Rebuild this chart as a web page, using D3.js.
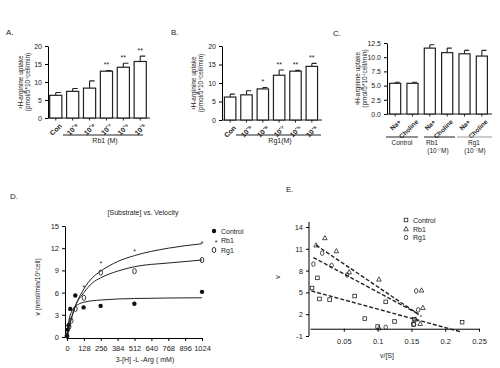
<!DOCTYPE html>
<html>
<head>
<script src="https://cdn.jsdelivr.net/npm/d3@7"></script>
<style>
  body{ margin:0; background:#fff; font-family:"Liberation Sans",Arial,sans-serif; }
  svg text{ fill:#222; }
</style>
</head>
<body>
<div id="chart"></div>
<script>
// ---- panel A / B / C bar data ----
var catsAB = ["Con","10\u207B\u2079","10\u207B\u2078","10\u207B\u2077","10\u207B\u2076","10\u207B\u2075"]
var valsA = [6.3,7.4,8.3,13.0,14.1,15.7]
var errA  = [7.1,8.2,10.3,13.2,15.2,17.2]
var starsA = ["","","","**","**","**"]
var valsB = [6.2,6.8,8.4,12.1,13.2,14.5]
var errB  = [7.0,7.9,8.8,13.5,13.4,15.3]
var starsB = ["","","*","**","**","**"]
var catsC = ["Na+","Choline","Na+","Choline","Na+","Choline"]
var valsC = [5.4,5.4,11.6,10.8,10.6,10.2]
var errC  = [5.6,5.6,12.2,11.6,11.2,11.2]
var ticksAB = [0,5,10,15,20]
var ticksC = [0,2.5,5,7.5,10,12.5]

// ---- panel D: substrate vs velocity ----
var dX = [0,128,256,384,512,640,768,896,1024]
var dY = [0,3,6,9,12,15]
var ctrlD = [[0,0.1],[6,1.0],[12,1.6],[25,3.8],[63,5.6],[126,4.0],[255,4.2],[511,4.5],[1024,6.1]]
var rb1D  = [[0,0.5],[16,1.6],[32,2.6],[128,6.9],[256,10.1],[512,11.8],[1024,12.8]]
var rg1D  = [[0,0.2],[16,1.4],[32,2.2],[64,3.8],[128,5.3],[256,8.7],[512,8.9],[1024,10.4]]
var ctrlFit = [[0,0],[8,1.5],[16,2.4],[32,3.3],[64,4.1],[128,4.7],[256,5.0],[512,5.2],[1024,5.3]]
var rb1Fit  = [[0,0],[16,1.3],[32,2.4],[64,4.2],[128,6.5],[192,8.0],[256,8.9],[384,10.2],[512,11.0],[768,12.0],[1024,12.6]]
var rg1Fit  = [[0,0],[16,1.4],[32,2.5],[64,4.2],[128,6.0],[192,7.3],[256,8.0],[384,8.9],[512,9.5],[768,10.0],[1024,10.4]]

// ---- panel E: Eadie-Hofstee ----
var eX = [0.05,0.1,0.15,0.2,0.25]
var eY = [-1,2,5,8,11,14]
var ctrlE = [[0.003,5.6],[0.011,7.0],[0.014,4.1],[0.029,4.0],[0.066,4.5],[0.081,1.4],[0.1,0.3],[0.112,3.7],[0.125,1.0],[0.154,1.3],[0.153,0.6],[0.225,0.9]]
var rb1E  = [[0.009,11.5],[0.022,12.5],[0.039,10.7],[0.058,7.8],[0.102,6.8],[0.102,0.1],[0.156,1.3],[0.165,5.3],[0.167,2.9],[0.163,0.7]]
var rg1E  = [[0.005,8.9],[0.018,10.4],[0.032,8.7],[0.055,7.4],[0.112,0.2],[0.157,5.2],[0.16,2.6],[0.154,0.6]]
var ctrlLine = [[0.002,5.2],[0.222,-0.4]]
var rb1Line  = [[0.009,11.5],[0.165,1.7]]
var rg1Line  = [[0.005,9.8],[0.161,2.0]]

var svg = d3.select("#chart").append("svg").attr("width",500).attr("height",368)

function txt(x,y,s,size,anchor){
    return svg.append("text").attr("x",x).attr("y",y).attr("font-size",size)
        .attr("text-anchor",anchor||"start").text(s)
}
function plainFmt(d){ return String(d) }   // keeps a normal hyphen for negatives

function bars(o){
    var g = svg.append("g")
    var x = d3.scaleBand().domain(d3.range(o.vals.length)).range([o.x0,o.x1])
        .paddingInner(o.pin).paddingOuter(o.pout)
    var y = d3.scaleLinear().domain([0,o.max]).range([o.y0,o.yTop])

    g.append("g").attr("transform","translate("+o.x0+",0)")
        .call(d3.axisLeft(y).tickValues(o.ticks).tickSize(3).tickSizeOuter(0).tickFormat(o.fmt))
        .call(function(a){ a.selectAll("text").attr("font-size",7).attr("font-family","Liberation Sans") })
    g.append("line").attr("x1",o.x0).attr("x2",o.x1+2).attr("y1",o.y0).attr("y2",o.y0).attr("stroke","#222")

    g.selectAll(".xt").data(o.vals).enter().append("line")
        .attr("x1",function(d,i){return x(i)+x.bandwidth()/2}).attr("x2",function(d,i){return x(i)+x.bandwidth()/2})
        .attr("y1",o.y0).attr("y2",o.y0+2.5).attr("stroke","#222")

    // error bars
    g.selectAll(".eb").data(o.err).enter().append("path")
        .attr("d",function(d,i){
            var cx = x(i)+x.bandwidth()/2
            return "M"+cx+","+y(o.vals[i])+"V"+y(d)+"M"+cx+","+y(d)+"H"+(cx+x.bandwidth()/2-1)
        })
        .attr("stroke","#222").attr("stroke-width",1.1).attr("fill","none")
    g.selectAll(".bar").data(o.vals).enter().append("rect")
        .attr("x",function(d,i){return x(i)}).attr("width",x.bandwidth())
        .attr("y",function(d){return y(d)}).attr("height",function(d){return o.y0-y(d)})
        .attr("fill","#fff").attr("stroke","#222").attr("stroke-width",1.2)
    if(o.stars){
        g.selectAll(".st").data(o.stars).enter().append("text")
            .attr("x",function(d,i){return x(i)+x.bandwidth()/2})
            .attr("y",function(d,i){return y(o.err[i])-3})
            .attr("text-anchor","middle").attr("font-size",7).text(function(d){return d})
    }
    g.selectAll(".lab").data(o.cats).enter().append("text")
        .attr("transform",function(d,i){return "translate("+(x(i)+x.bandwidth()/2+3)+","+(o.y0+5)+") rotate(-45)"})
        .attr("text-anchor","end").attr("dy","0.7em").attr("font-size",o.labSize||7)
        .attr("font-weight","bold").text(function(d){return d})
    // y label
    var ly = (o.y0+o.yTop)/2
    g.append("text").attr("transform","translate("+o.lx+","+ly+") rotate(-90)")
        .attr("text-anchor","middle").attr("font-size",6.5).text("\u00B3H-arginine uptake")
    g.append("text").attr("transform","translate("+(o.lx+7)+","+ly+") rotate(-90)")
        .attr("text-anchor","middle").attr("font-size",6.5).text("(pmol/5*10\u2074cell/min)")
    return x
}

// panel A
txt(6,35,"A.",8)
bars({vals:valsA,err:errA,stars:starsA,cats:catsAB,x0:48,x1:148,pin:0.28,pout:0.1,
      y0:118,yTop:46,max:20,ticks:ticksAB,fmt:d3.format("d"),lx:23})
svg.append("line").attr("x1",63).attr("x2",143).attr("y1",135).attr("y2",135).attr("stroke","#222")
txt(105,143,"Rb1 (M)",7,"middle")

// panel B
txt(171,35,"B.",8)
bars({vals:valsB,err:errB,stars:starsB,cats:catsAB,x0:222,x1:320,pin:0.3,pout:0.15,
      y0:120,yTop:46,max:20,ticks:ticksAB,fmt:d3.format("d"),lx:196})
svg.append("line").attr("x1",236).attr("x2",321).attr("y1",135).attr("y2",135).attr("stroke","#222")
txt(280,143,"Rg1(M)",7,"middle")

// panel C
txt(333,36,"C.",8)
bars({vals:valsC,err:errC,cats:catsC,x0:387,x1:490,pin:0.36,pout:0.15,
      y0:114,yTop:43,max:12.5,ticks:ticksC,fmt:d3.format(".1f"),lx:360,labSize:6.5})
svg.append("line").attr("x1",386).attr("x2",418).attr("y1",137).attr("y2",137).attr("stroke","#222")
svg.append("line").attr("x1",424).attr("x2",455).attr("y1",137).attr("y2",137).attr("stroke","#222")
svg.append("line").attr("x1",457).attr("x2",492).attr("y1",137).attr("y2",137).attr("stroke","#999")
txt(402,145,"Control",6.5,"middle")
txt(432,145,"Rb1",6.5,"middle")
txt(438,153,"(10\u207B\u2077M)",6.5,"middle")
txt(474,145,"Rg1",6.5,"middle")
txt(475,153,"(10\u207B\u2077M)",6.5,"middle")

// panel D
txt(10,199,"D.",8)
var dx = d3.scaleLinear().domain([0,1024]).range([67,202])
var dy = d3.scaleLinear().domain([0,15]).range([337,226])
svg.append("g").attr("transform","translate(65,0)")
    .call(d3.axisLeft(dy).tickValues(dY).tickSize(3).tickSizeOuter(0).tickFormat(plainFmt))
    .call(function(a){ a.selectAll("text").attr("font-size",7.5).attr("font-family","Liberation Sans") })
svg.append("g").attr("transform","translate(0,338)")
    .call(d3.axisBottom(dx).tickValues(dX).tickSize(3).tickSizeOuter(0).tickFormat(plainFmt))
    .call(function(a){ a.selectAll("text").attr("font-size",7.5).attr("font-family","Liberation Sans").attr("dy","0.95em") })
var fitLine = d3.line().x(function(d){return dx(d[0])}).y(function(d){return dy(d[1])}).curve(d3.curveMonotoneX)
;[ctrlFit,rb1Fit,rg1Fit].forEach(function(f){
    svg.append("path").attr("d",fitLine(f)).attr("fill","none").attr("stroke","#222").attr("stroke-width",1)
})
svg.selectAll(".dc").data(ctrlD).enter().append("circle")
    .attr("cx",function(d){return dx(d[0])}).attr("cy",function(d){return dy(d[1])}).attr("r",2.2).attr("fill","#111")
svg.selectAll(".dr").data(rb1D).enter().append("text")
    .attr("x",function(d){return dx(d[0])}).attr("y",function(d){return dy(d[1])+4})
    .attr("text-anchor","middle").attr("font-size",7).text("*")
svg.selectAll(".dg").data(rg1D).enter().append("ellipse")
    .attr("cx",function(d){return dx(d[0])}).attr("cy",function(d){return dy(d[1])})
    .attr("rx",1.8).attr("ry",2.6).attr("fill","none").attr("stroke","#222").attr("stroke-width",0.9)
txt(143,215,"[Substrate] vs. Velocity",7,"middle")
txt(145,362,"3-[H] -L -Arg ( mM)",7,"middle")
svg.append("text").attr("transform","translate(40,287) rotate(-90)").attr("text-anchor","middle")
    .attr("font-size",6.5).text("v (nmol/min/10\u2076cell)")
svg.append("circle").attr("cx",214).attr("cy",231).attr("r",2.2).attr("fill","#111")
txt(221,234,"Control",7)
txt(216,245,"*",7,"middle")
txt(221,243,"Rb1",7)
svg.append("ellipse").attr("cx",214).attr("cy",250).attr("rx",1.8).attr("ry",2.6)
    .attr("fill","none").attr("stroke","#222").attr("stroke-width",0.9)
txt(221,253,"Rg1",7)

// panel E
txt(286,192,"E.",8)
var ex = d3.scaleLinear().domain([0,0.25]).range([310,479])
var ey = d3.scaleLinear().domain([-1,14]).range([336,227])
svg.append("g").attr("transform","translate(309,0)")
    .call(d3.axisLeft(ey).tickValues(eY).tickSize(3).tickSizeOuter(0).tickFormat(plainFmt))
    .call(function(a){ a.selectAll("text").attr("font-size",7.5).attr("font-family","Liberation Sans") })
    .call(function(a){ a.select(".domain").attr("d","M-0,222V336") })
svg.append("g").attr("transform","translate(0,"+ey(0)+")")
    .call(d3.axisBottom(ex).tickValues(eX).tickSize(3).tickSizeOuter(0).tickFormat(plainFmt))
    .call(function(a){ a.selectAll("text").attr("font-size",7.5).attr("font-family","Liberation Sans").attr("dy","1.2em") })
var eLine = d3.line().x(function(d){return ex(d[0])}).y(function(d){return ey(d[1])})
;[ctrlLine,rb1Line,rg1Line].forEach(function(f){
    svg.append("path").attr("d",eLine(f)).attr("fill","none").attr("stroke","#222")
        .attr("stroke-width",1.4).attr("stroke-dasharray","4,2")
})
function sq(sel){ sel.attr("x",-1.8).attr("y",-1.8).attr("width",3.6).attr("height",3.6)
    .attr("fill","none").attr("stroke","#222").attr("stroke-width",0.8) }
function tri(sel){ sel.attr("d","M0,-2.4L2.3,1.8L-2.3,1.8Z").attr("fill","none").attr("stroke","#222").attr("stroke-width",0.8) }
function oval(sel){ sel.attr("rx",1.7).attr("ry",2.3).attr("fill","none").attr("stroke","#222").attr("stroke-width",0.8) }
function pos(d){ return "translate("+ex(d[0])+","+ey(d[1])+")" }
svg.selectAll(".ec").data(ctrlE).enter().append("rect").attr("transform",pos).call(sq)
svg.selectAll(".er").data(rb1E).enter().append("path").attr("transform",pos).call(tri)
svg.selectAll(".eg").data(rg1E).enter().append("ellipse").attr("transform",pos).call(oval)
svg.append("rect").attr("transform","translate(406,220)").call(sq)
svg.append("path").attr("transform","translate(406,229)").call(tri)
svg.append("ellipse").attr("transform","translate(406,237.5)").call(oval)
txt(413,222.5,"Control",7)
txt(413,231.5,"Rb1",7)
txt(413,240,"Rg1",7)
svg.append("text").attr("transform","translate(280,277) rotate(-90)").attr("text-anchor","middle")
    .attr("font-size",7).text("v")
txt(387,358,"v/[S]",7,"middle")
</script>
</body>
</html>
